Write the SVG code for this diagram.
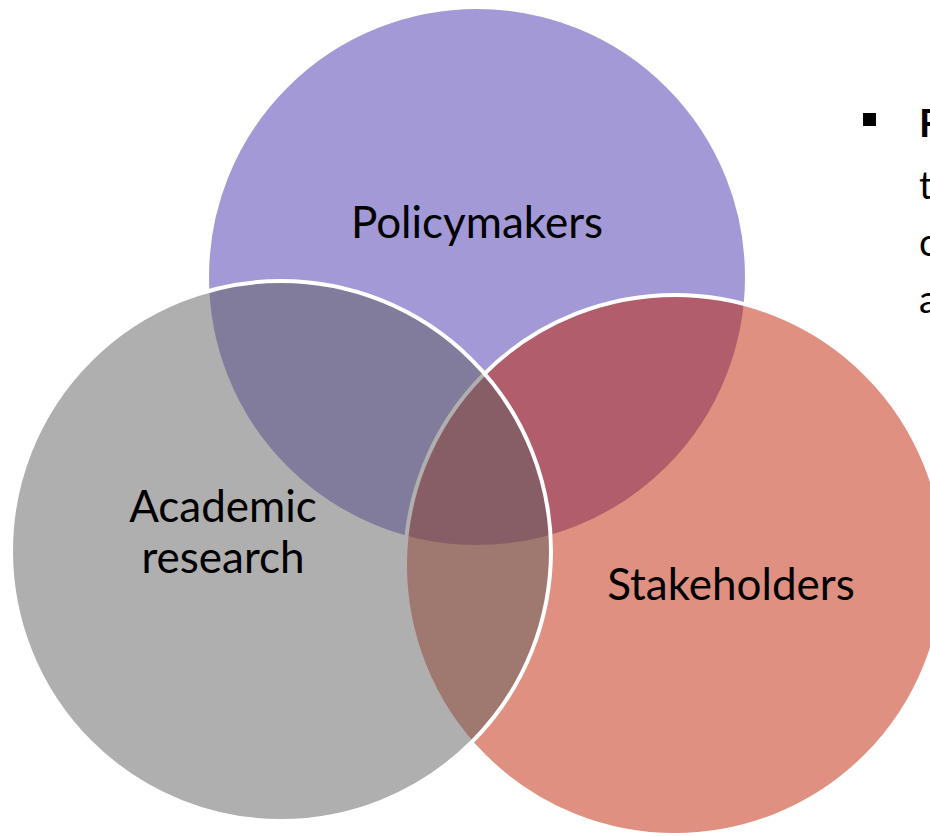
<svg xmlns="http://www.w3.org/2000/svg" width="930" height="836" viewBox="0 0 930 836">
<style>
.c{stroke:#FFFFFF;stroke-width:4;fill-opacity:0.5}
.lbl{font-family:Lato,"Open Sans",sans-serif;font-size:44px;fill:#000000;text-anchor:middle}
.bt{font-family:Lato,"Open Sans",sans-serif;font-size:38px;fill:#000000}
</style>
<rect width="930" height="836" fill="#FFFFFF"/>
<g id="policymakers">
<circle class="c" cx="477" cy="277" r="270" fill="#4533AD"/>
</g>
<g id="stakeholders">
<circle class="c" cx="675" cy="565" r="270" fill="#BF2101"/>
</g>
<g id="academic-research">
<circle class="c" cx="281" cy="551" r="270" fill="#5F5F5F"/>
</g>
<g id="labels">
<text class="lbl" x="477" y="238">Policymakers</text>
<text class="lbl" x="223" y="522">Academic</text>
<text class="lbl" x="223" y="573">research</text>
<text class="lbl" x="731" y="600">Stakeholders</text>
</g>
<g id="bullet-text">
<rect x="863" y="113" width="13" height="13" fill="#000000"/>
<text class="bt" x="919" y="137" font-weight="bold">F</text>
<text class="bt" x="919" y="199">t</text>
<text class="bt" x="919" y="256">c</text>
<text class="bt" x="919" y="313">a</text>
</g>
</svg>
